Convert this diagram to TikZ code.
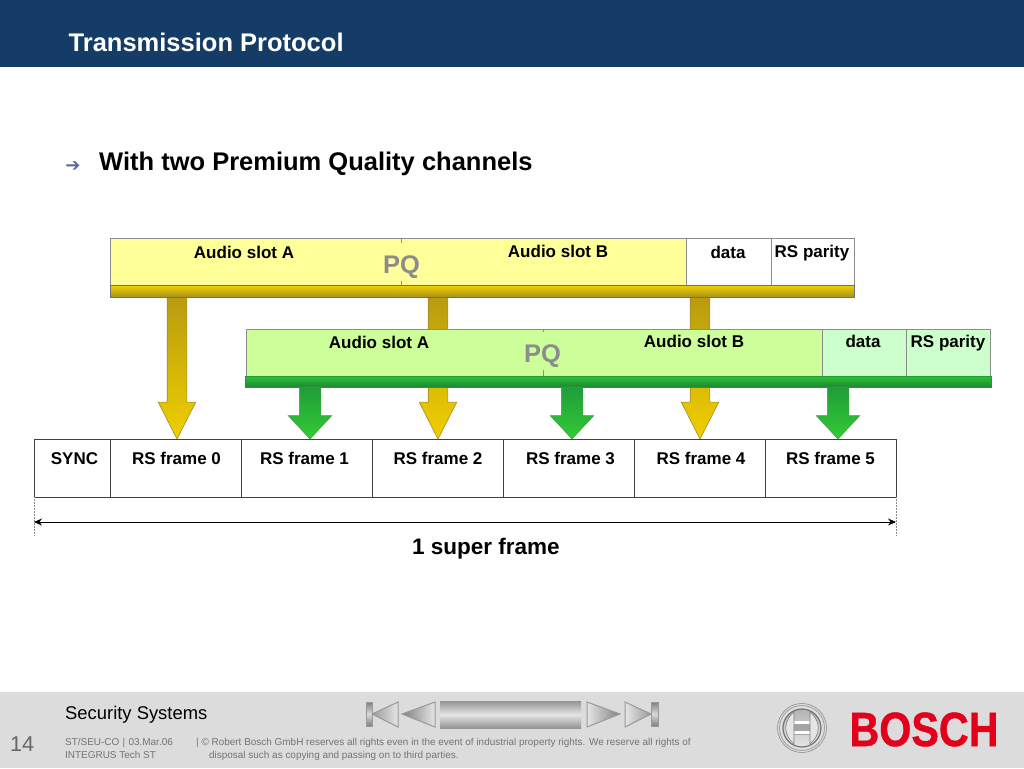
\documentclass[tikz,border=0pt]{standalone}
\usepackage{fontspec}
\setmainfont{Liberation Sans}
\newfontfamily\symfont{DejaVu Sans}
\newfontface\boschfont{Liberation Sans Bold}[FakeBold=1]
\usetikzlibrary{shapes.arrows,arrows.meta}
\newcommand{\pxfont}[1]{\fontsize{#1}{#1}\selectfont}
\definecolor{headblue}{HTML}{143C66}
\definecolor{footgray}{HTML}{DCDCDC}
\definecolor{boschred}{HTML}{E2001A}
\definecolor{edgegray}{HTML}{8C8C8C}
\definecolor{slotyellow}{HTML}{FFFF99}
\definecolor{slotgreen}{HTML}{CCFF99}
\definecolor{restgreen}{HTML}{CCFFCC}
\definecolor{goldtop}{HTML}{B89B10}
\definecolor{goldlow}{HTML}{F0CF00}
\definecolor{goldedge}{HTML}{A08A30}
\definecolor{bardark}{HTML}{A89020}
\definecolor{greentop}{HTML}{1F9C3A}
\definecolor{greenlow}{HTML}{33CC33}
\definecolor{greenedge}{HTML}{4A9A4A}
\definecolor{bullblue}{HTML}{5A6A9A}
\begin{document}
\begin{tikzpicture}[x=1pt,y=-1pt,
  slot/.style={draw=edgegray, line width=0.7pt, inner sep=0, outer sep=0, anchor=north west, minimum height=47pt},
  barnode/.style={draw=edgegray!80!black, line width=0.5pt, inner sep=0, outer sep=0, anchor=north west, minimum height=11.5pt},
  yarrow/.style={single arrow, shape border rotate=270, draw=goldedge, line width=0.6pt, inner sep=9.5pt, outer sep=0, single arrow head extend=9pt, single arrow tip angle=54, anchor=tip, top color=goldtop, bottom color=goldlow},
  garrow/.style={single arrow, shape border rotate=270, draw=greenedge, line width=0.5pt, inner sep=10.5pt, outer sep=0, single arrow head extend=11pt, single arrow tip angle=86, anchor=tip, top color=greentop, bottom color=greenlow, minimum height=52pt},
  framebox/.style={draw=black!75, line width=0.8pt, inner sep=0, outer sep=0, anchor=north west, minimum height=58pt},
  boldtext/.style={font=\pxfont{17}\bfseries, inner sep=0, anchor=base, text=black},
  pqtext/.style={font=\pxfont{25.5}\bfseries, inner sep=0, text=edgegray, minimum width=38pt, text height=30pt, text depth=8pt, anchor=base},
  smalltext/.style={font=\pxfont{9.95}, inner sep=0, anchor=base west, text=black!55},
  navtri/.style={draw=black!40, line width=1pt},
  dimline/.style={draw=black!45, line width=0.5pt, densely dotted}
]
\useasboundingbox (0,0) rectangle (1024,768);
% header and footer
\fill[headblue] (0,0) rectangle (1024,67);
\fill[footgray] (0,692) rectangle (1024,768);
\node[font=\pxfont{25.5}\bfseries, text=white, inner sep=0, anchor=base west] (title) at (68.5,52) {Transmission Protocol};
\node[font=\symfont\pxfont{18}, text=bullblue, inner sep=0, anchor=base] (bullet) at (73,171) {➔};
\node[font=\pxfont{25.5}\bfseries, inner sep=0, anchor=base west] (subtitle) at (99,170) {With two Premium Quality channels};

% yellow channel arrows go under the green channel
\node[yarrow, minimum height=142pt] (ya) at (177,439) {};
\node[yarrow, minimum height=142pt] (yb) at (438,439) {};
\node[yarrow, minimum height=142pt] (yc) at (700,439) {};

% first channel
\node[slot, fill=slotyellow, minimum width=291pt] (slotaone) at (110,238) {};
\node[slot, fill=slotyellow, minimum width=285pt] (slotbone) at (401,238) {};
\node[slot, fill=white, minimum width=85pt] (dataone) at (686,238) {};
\node[slot, fill=white, minimum width=83pt] (parityone) at (771,238) {};
\node[barnode, top color=goldlow, bottom color=bardark, minimum width=744pt] (barone) at (110,285.5) {};
\node[boldtext] (laone) at (244,258) {Audio slot A};
\node[boldtext] (lbone) at (558,257) {Audio slot B};
\node[boldtext] (ldone) at (728,258) {data};
\node[boldtext] (lpone) at (812,257) {RS parity};
\node[pqtext, fill=slotyellow] (pqone) at (401.5,273) {PQ};

% second channel
\node[slot, fill=slotgreen, minimum width=297pt] (slotatwo) at (246,329) {};
\node[slot, fill=slotgreen, minimum width=279pt] (slotbtwo) at (543,329) {};
\node[slot, fill=restgreen, minimum width=84pt] (datatwo) at (822,329) {};
\node[slot, fill=restgreen, minimum width=84pt] (paritytwo) at (906,329) {};
\node[barnode, draw=greentop, top color=greenlow!80!greentop, bottom color=greentop!85!black, minimum width=746pt] (bartwo) at (245,376) {};
\node[boldtext] (latwo) at (379,348) {Audio slot A};
\node[boldtext] (lbtwo) at (694,347) {Audio slot B};
\node[boldtext] (ldtwo) at (863,347) {data};
\node[boldtext] (lptwo) at (948,347) {RS parity};
\node[pqtext, fill=slotgreen] (pqtwo) at (542.5,362) {PQ};

\node[garrow] (ga) at (310,439) {};
\node[garrow] (gb) at (572,439) {};
\node[garrow] (gc) at (838,439) {};

% super frame
\node[framebox, minimum width=76.5pt] (sync) at (34,439) {};
\node[framebox, minimum width=131pt] (rszero) at (110.5,439) {};
\node[framebox, minimum width=131pt] (rsone) at (241.5,439) {};
\node[framebox, minimum width=131pt] (rstwo) at (372.5,439) {};
\node[framebox, minimum width=131pt] (rsthree) at (503.5,439) {};
\node[framebox, minimum width=131pt] (rsfour) at (634.5,439) {};
\node[framebox, minimum width=131pt] (rsfive) at (765,439) {};
\node[boldtext] (lsync) at (74.5,464) {SYNC};
\node[boldtext] (lzero) at (176.5,464) {RS frame 0};
\node[boldtext] (lrone) at (304.5,464) {RS frame 1};
\node[boldtext] (lrtwo) at (438,464) {RS frame 2};
\node[boldtext] (lrthree) at (570.5,464) {RS frame 3};
\node[boldtext] (lrfour) at (701,464) {RS frame 4};
\node[boldtext] (lrfive) at (830.5,464) {RS frame 5};

\coordinate (dimleft) at (34,535);
\coordinate (dimright) at (896,535);
\coordinate (arrowleft) at (34,522);
\coordinate (arrowright) at (896,522);
\draw[dimline] (sync.south west) -- (dimleft);
\draw[dimline] (rsfive.south east) -- (dimright);
\draw[{Stealth[length=8pt,width=7pt]}-{Stealth[length=8pt,width=7pt]}, line width=0.9pt, black] (arrowleft) -- (arrowright);
\node[font=\pxfont{22.5}\bfseries, inner sep=0, anchor=base] (super) at (486,554) {1 super frame};

% footer text
\node[font=\pxfont{18.4}, inner sep=0, anchor=base west] (secsys) at (65,719) {Security Systems};
\node[font=\pxfont{21.5}, inner sep=0, anchor=base west, text=black!60] (page) at (10,751) {14};
\node[smalltext] (dept) at (65,745) {ST/SEU-CO\,\,|\,\,03.Mar.06};
\node[smalltext] (tech) at (65,758) {INTEGRUS Tech ST};
\node[smalltext] (copyone) at (196,745) {| © Robert Bosch GmbH reserves all rights even in the event of industrial property rights. We reserve all rights of};
\node[smalltext] (copytwo) at (209,758) {disposal such as copying and passing on to third parties.};

% navigation buttons
\draw[navtri, top color=black!50, bottom color=black!50, middle color=black!15] (366,702) rectangle (372,726);
\draw[navtri, left color=black!40, right color=black!10] (372,714) -- (398,702) -- (398,727) -- cycle;
\draw[navtri, left color=black!50, right color=black!10] (402,714) -- (435,702) -- (435,727) -- cycle;
\path[top color=black!42, bottom color=black!42, middle color=black!10] (440,701) rectangle (581,728);
\draw[navtri, left color=black!10, right color=black!50] (587,702) -- (620,714) -- (587,727) -- cycle;
\draw[navtri, left color=black!10, right color=black!40] (625,702) -- (651,714) -- (625,727) -- cycle;
\draw[navtri, top color=black!50, bottom color=black!50, middle color=black!15] (651,702) rectangle (658,726);

% logo
\draw[black!45, line width=0.6pt, fill=black!12] (802,728) circle (24.5);
\draw[black!35, line width=1pt] (802,728) circle (22.5);
\draw[black!55, line width=1.2pt, top color=black!30, bottom color=black!10] (802,728) circle (19);
\fill[black!35] (794,721) rectangle (810,735);
\fill[white] (794,721) rectangle (810,724);
\fill[white] (794,731) rectangle (810,734);
\draw[black!50, line width=0.6pt, fill=white!90!black] (794,712) .. controls (783,721) and (783,735) .. (794,744) -- cycle;
\draw[black!50, line width=0.6pt, fill=white!90!black] (810,712) .. controls (821,721) and (821,735) .. (810,744) -- cycle;
\node[font=\boschfont\pxfont{48}, text=boschred, inner sep=0, anchor=base, xscale=0.86] (bosch) at (924,746) {BOSCH};
\end{tikzpicture}
\end{document}
